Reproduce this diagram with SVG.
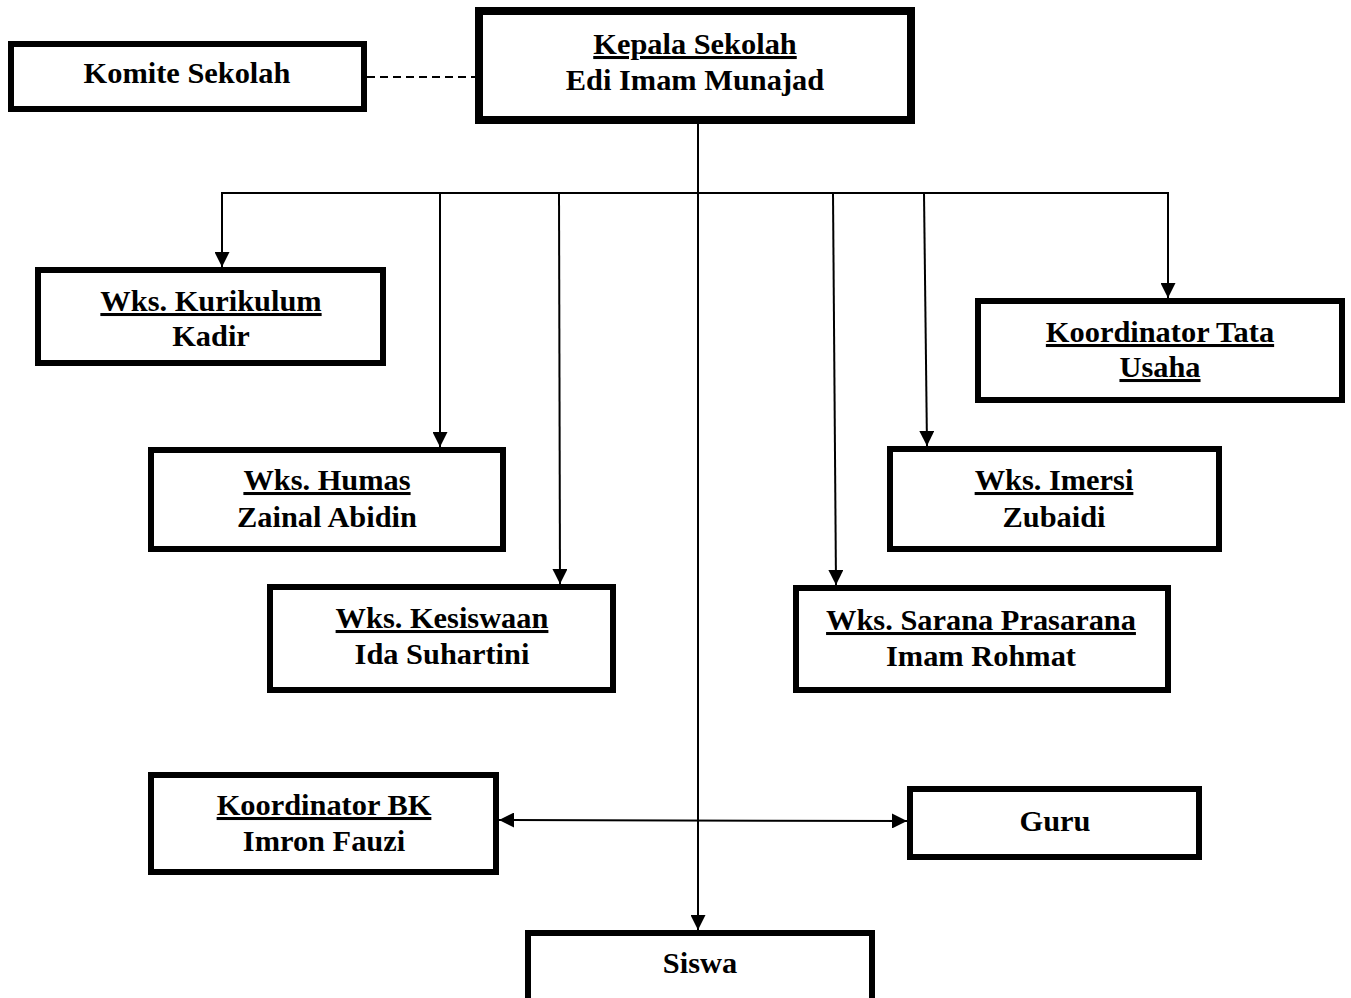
<svg xmlns="http://www.w3.org/2000/svg" width="1351" height="998" viewBox="0 0 1351 998">
<style>
.box{fill:#fff;stroke:#000;stroke-width:6}
.t{font-family:"Liberation Serif","Times New Roman",serif;font-weight:bold;font-size:30.4px;fill:#000;text-anchor:middle}
.u{text-decoration:underline}
.ln{fill:none;stroke:#000;stroke-width:2}
</style>
<defs>
<marker id="ah" markerUnits="userSpaceOnUse" markerWidth="15" markerHeight="15" viewBox="0 0 15 15" refX="15" refY="7.5" orient="auto-start-reverse">
<path d="M0,0 L15,7.5 L0,15 z" fill="#000"/>
</marker>
</defs>
<rect width="1351" height="998" fill="#fff"/>
<g id="connectors">
<line class="ln" x1="367" y1="77" x2="475" y2="77" stroke-dasharray="8,5"/>
<line class="ln" x1="698" y1="124" x2="698" y2="930" marker-end="url(#ah)"/>
<line class="ln" x1="221" y1="193" x2="1169" y2="193"/>
<line class="ln" x1="222" y1="193" x2="222" y2="267" marker-end="url(#ah)"/>
<line class="ln" x1="440" y1="193" x2="440" y2="447" marker-end="url(#ah)"/>
<line class="ln" x1="559" y1="193" x2="560" y2="584" marker-end="url(#ah)"/>
<line class="ln" x1="833" y1="193" x2="836" y2="585" marker-end="url(#ah)"/>
<line class="ln" x1="924" y1="193" x2="927" y2="446" marker-end="url(#ah)"/>
<line class="ln" x1="1168" y1="193" x2="1168" y2="298" marker-end="url(#ah)"/>
<line class="ln" x1="499" y1="820" x2="907" y2="821" marker-start="url(#ah)" marker-end="url(#ah)"/>
</g>
<g id="komite">
<rect class="box" x="11" y="44" width="353" height="65"/>
<text class="t" x="187" y="83">Komite Sekolah</text>
</g>
<g id="kepala">
<rect class="box" x="479" y="11" width="432" height="109" style="stroke-width:8"/>
<text class="t u" x="695" y="54">Kepala Sekolah</text>
<text class="t" x="695" y="90">Edi Imam Munajad</text>
</g>
<g id="kurikulum">
<rect class="box" x="38" y="270" width="345" height="93"/>
<text class="t u" x="211" y="311">Wks. Kurikulum</text>
<text class="t" x="211" y="346">Kadir</text>
</g>
<g id="tatausaha">
<rect class="box" x="978" y="301" width="364" height="99"/>
<text class="t u" x="1160" y="342">Koordinator Tata</text>
<text class="t u" x="1160" y="377">Usaha</text>
</g>
<g id="humas">
<rect class="box" x="151" y="450" width="352" height="99"/>
<text class="t u" x="327" y="490">Wks. Humas</text>
<text class="t" x="327" y="527">Zainal Abidin</text>
</g>
<g id="imersi">
<rect class="box" x="890" y="449" width="329" height="100"/>
<text class="t u" x="1054" y="490">Wks. Imersi</text>
<text class="t" x="1054" y="527">Zubaidi</text>
</g>
<g id="kesiswaan">
<rect class="box" x="270" y="587" width="343" height="103"/>
<text class="t u" x="442" y="628">Wks. Kesiswaan</text>
<text class="t" x="442" y="664">Ida Suhartini</text>
</g>
<g id="sarana">
<rect class="box" x="796" y="588" width="372" height="102"/>
<text class="t u" x="981" y="630">Wks. Sarana Prasarana</text>
<text class="t" x="981" y="666">Imam Rohmat</text>
</g>
<g id="bk">
<rect class="box" x="151" y="775" width="345" height="97"/>
<text class="t u" x="324" y="815">Koordinator BK</text>
<text class="t" x="324" y="851">Imron Fauzi</text>
</g>
<g id="guru">
<rect class="box" x="910" y="789" width="289" height="68"/>
<text class="t" x="1055" y="831">Guru</text>
</g>
<g id="siswa">
<rect class="box" x="528" y="933" width="344" height="72"/>
<text class="t" x="700" y="973">Siswa</text>
</g>
</svg>
